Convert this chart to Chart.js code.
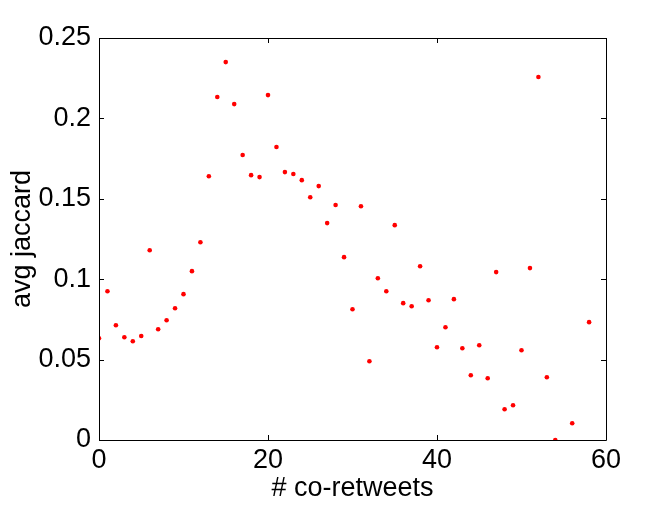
<!DOCTYPE html>
<html>
<head>
<meta charset="utf-8">
<script src="https://cdn.jsdelivr.net/npm/chart.js@4/dist/chart.umd.min.js"></script>
<style>
  html, body { margin: 0; padding: 0; background: #fff; }
  #wrap { width: 670px; height: 505px; }
</style>
</head>
<body>
<div id="wrap"><canvas id="chart" width="670" height="505"></canvas></div>
<script>
// co-retweet counts and the average jaccard
const coRetweets = [
  0, 1, 2, 3, 4, 5, 6, 7, 8, 9,
  10, 11, 12, 13, 14, 15, 16, 17, 18, 19,
  20, 21, 22, 23, 24, 25, 26, 27, 28, 29,
  30, 31, 32, 33, 34, 35, 36, 37, 38, 39,
  40, 41, 42, 43, 44, 45, 46, 47, 48, 49,
  50, 51, 52, 53, 54, 56, 58
];
const avgJaccard = [
  0.0633, 0.0925, 0.0714, 0.0639, 0.0614, 0.0647, 0.1180, 0.0689, 0.0745, 0.0819,
  0.0907, 0.1050, 0.1230, 0.1640, 0.2133, 0.2350, 0.2089, 0.1772, 0.1647, 0.1635,
  0.2145, 0.1822, 0.1666, 0.1654, 0.1616, 0.1510, 0.1579, 0.1349, 0.1461, 0.1137,
  0.0813, 0.1454, 0.0490, 0.1006, 0.0925, 0.1336, 0.0851, 0.0832, 0.1081, 0.0869,
  0.0577, 0.0701, 0.0876, 0.0571, 0.0403, 0.0589, 0.0384, 0.1044, 0.0191, 0.0216,
  0.0558, 0.1069, 0.2257, 0.0390, 0.0000, 0.0104, 0.0733
];
const xTicks = [0, 20, 40, 60];
const yTicks = [0, 0.05, 0.1, 0.15, 0.2, 0.25];

const FONT = 'Liberation Sans, Arial, Helvetica, sans-serif';
const points = coRetweets.map((x, i) => ({ x: x, y: avgJaccard[i] }));

// matlab style box with inward ticks on every side
const boxPlugin = {
  id: 'box',
  afterDraw(chart) {
    const { ctx, chartArea: a, scales } = chart;
    const len = 5;
    ctx.save();
    ctx.strokeStyle = '#000';
    ctx.lineWidth = 1;
    ctx.beginPath();
    ctx.rect(Math.round(a.left) + 0.5, Math.round(a.top) + 0.5,
      Math.round(a.right - a.left), Math.round(a.bottom - a.top));
    for (const t of xTicks) {
      const px = Math.round(scales.x.getPixelForValue(t)) + 0.5;
      ctx.moveTo(px, a.bottom); ctx.lineTo(px, a.bottom - len);
      ctx.moveTo(px, a.top); ctx.lineTo(px, a.top + len);
    }
    for (const t of yTicks) {
      const py = Math.round(scales.y.getPixelForValue(t)) + 0.5;
      ctx.moveTo(a.left, py); ctx.lineTo(a.left + len, py);
      ctx.moveTo(a.right, py); ctx.lineTo(a.right - len, py);
    }
    ctx.stroke();
    ctx.restore();
  }
};

new Chart(document.getElementById('chart'), {
  type: 'scatter',
  data: {
    datasets: [{
      data: points,
      pointStyle: 'circle',
      pointRadius: 2.3,
      pointHoverRadius: 2.3,
      pointBorderWidth: 0,
      pointBackgroundColor: '#ff0000',
      borderColor: '#ff0000',
    }],
  },
  options: {
    responsive: false,
    animation: false,
    devicePixelRatio: 1,
    layout: {
      padding: { left: 6, top: 38, right: 64, bottom: 0 },
    },
    plugins: {
      legend: { display: false },
      tooltip: { enabled: false },
    },
    scales: {
      x: {
        type: 'linear',
        min: 0,
        max: 60,
        afterBuildTicks: (scale) => {
          scale.ticks = xTicks.map((v) => ({ value: v }));
        },
        afterFit: (scale) => {
          scale.height = 65;
        },
        grid: { display: false, drawTicks: false },
        border: { display: false },
        ticks: {
          color: '#000',
          padding: 4,
          maxRotation: 0,
          font: { family: FONT, size: 27 },
        },
        title: {
          display: true,
          text: '# co-retweets',
          color: '#000',
          padding: 0,
          font: { family: FONT, size: 27 },
        },
      },
      y: {
        type: 'linear',
        min: 0,
        max: 0.25,
        afterBuildTicks: (scale) => {
          scale.ticks = yTicks.map((v) => ({ value: v }));
        },
        afterFit: (scale) => {
          scale.width = 93;
        },
        grid: { display: false, drawTicks: false },
        border: { display: false },
        ticks: {
          color: '#000',
          padding: 8,
          font: { family: FONT, size: 27 },
          callback: (v) => String(+v.toFixed(2)),
        },
        title: {
          display: true,
          text: 'avg jaccard',
          color: '#000',
          padding: 0,
          font: { family: FONT, size: 27 },
        },
      },
    },
  },
  plugins: [boxPlugin],
});
</script>
</body>
</html>
